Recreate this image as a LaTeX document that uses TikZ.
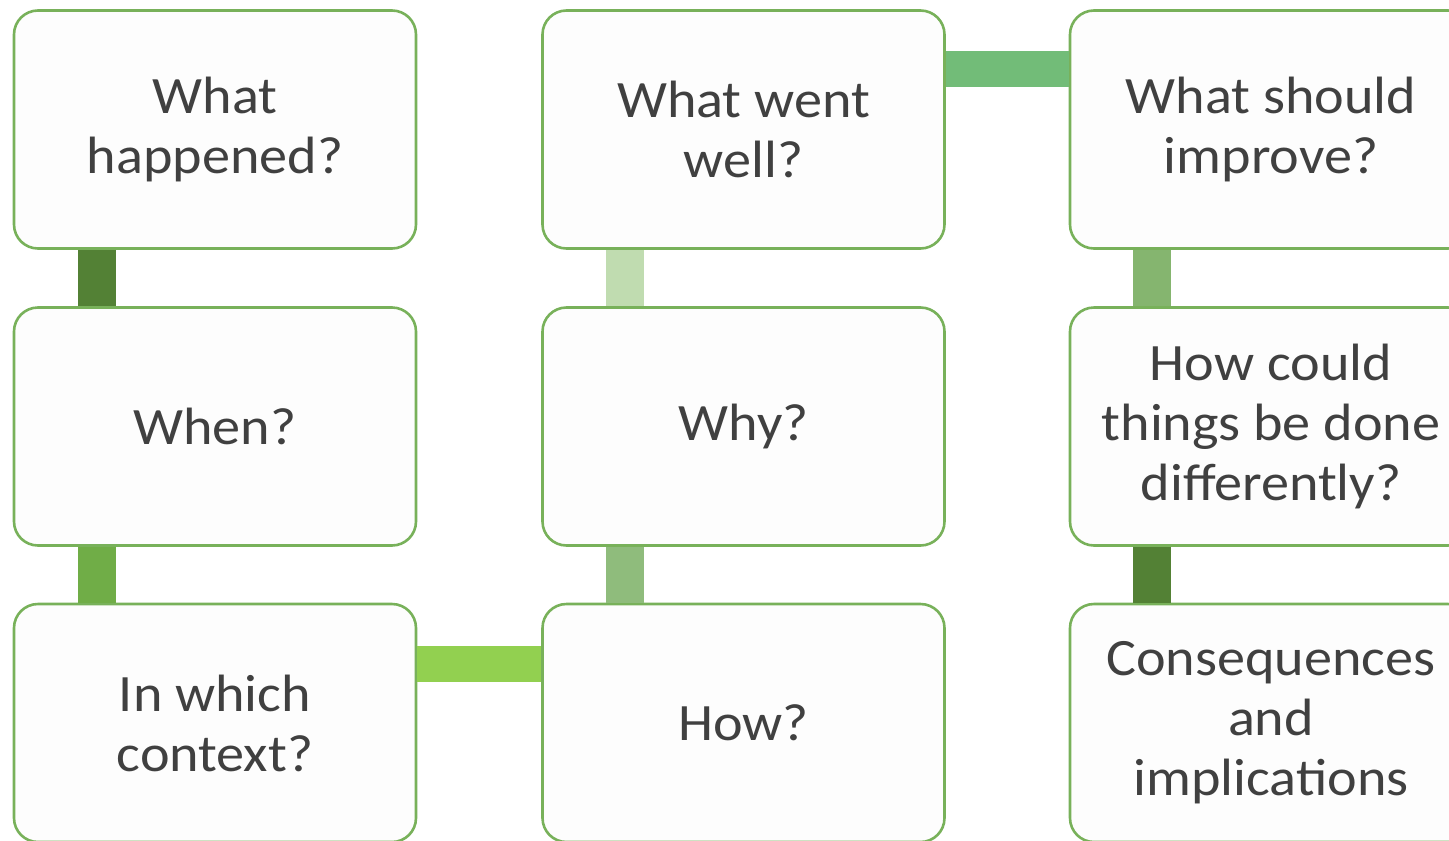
\documentclass[tikz,border=0pt]{standalone}
\usepackage{fontspec}
\setmainfont{Carlito}[FakeStretch=1.07]
\definecolor{boxline}{HTML}{78B15A}
\definecolor{boxfill}{HTML}{FDFDFD}
\definecolor{txt}{HTML}{404040}
\definecolor{cda}{HTML}{538135}
\definecolor{cmid}{HTML}{70AD47}
\definecolor{clight}{HTML}{C0DCB0}
\definecolor{csage}{HTML}{8FBC7C}
\definecolor{cgrass}{HTML}{85B56F}
\definecolor{clime}{HTML}{92D050}
\definecolor{cmint}{HTML}{72BC78}
\begin{document}
\begin{tikzpicture}[x=1pt,y=-1pt,
  qbox/.style={draw=boxline, line width=2.6pt, fill=boxfill, rounded corners=24pt,
    minimum width=402pt, minimum height=238pt, align=center, text=txt,
    font=\fontsize{52.5}{60}\selectfont, inner sep=0pt},
  vlink/.style={line width=38pt},
  hlink/.style={line width=36pt}]
\useasboundingbox (0,0) rectangle (1449,841);
\node[qbox] (a1) at (215,129.5) {What\\happened?};
\node[qbox] (a2) at (215,426.5) {When?};
\node[qbox] (a3) at (215,723) {In which\\context?};
\node[qbox] (b1) at (743.5,129.5) {What went\\well?};
\node[qbox] (b2) at (743.5,426.5) {Why?};
\node[qbox] (b3) at (743.5,723) {How?};
\node[qbox] (c1) at (1271,129.5) {What should\\improve?};
\node[qbox] (c2) at (1271,426.5) {How could\\things be done\\differently?};
\node[qbox] (c3) at (1271,723) {Consequences\\and\\implications};
\draw[vlink, cda] ([xshift=-118pt]a1.south) -- ([xshift=-118pt]a2.north);
\draw[vlink, cmid] ([xshift=-118pt]a2.south) -- ([xshift=-118pt]a3.north);
\draw[vlink, clight] ([xshift=-119pt]b1.south) -- ([xshift=-119pt]b2.north);
\draw[vlink, csage] ([xshift=-119pt]b2.south) -- ([xshift=-119pt]b3.north);
\draw[vlink, cgrass] ([xshift=-119pt]c1.south) -- ([xshift=-119pt]c2.north);
\draw[vlink, cda] ([xshift=-119pt]c2.south) -- ([xshift=-119pt]c3.north);
\draw[hlink, clime] ([yshift=59pt]a3.east) -- ([yshift=59pt]b3.west);
\draw[hlink, cmint] ([yshift=61pt]b1.east) -- ([yshift=61pt]c1.west);
\end{tikzpicture}
\end{document}
